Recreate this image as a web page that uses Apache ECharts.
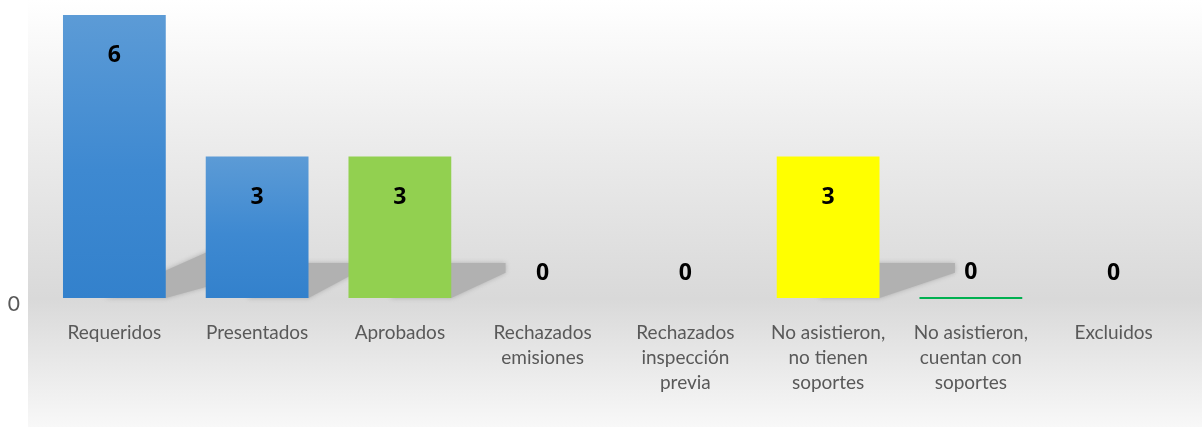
<!DOCTYPE html>
<html>
<head>
<meta charset="utf-8">
<script src="https://cdn.jsdelivr.net/npm/echarts@6/dist/echarts.min.js"></script>
<style>html,body{margin:0;padding:0;background:#fff}#c{width:1202px;height:427px}</style>
</head>
<body>
<div id="c"></div>
<script>
const categories = ['Requeridos', 'Presentados', 'Aprobados', 'Rechazados\nemisiones', 'Rechazados\ninspección\nprevia', 'No asistieron,\nno tienen\nsoportes', 'No asistieron,\ncuentan con\nsoportes', 'Excluidos'];
const values = [6, 3, 3, 0, 0, 3, 0, 0];
const yTicks = [0];

const blue = new echarts.graphic.LinearGradient(0, 0, 0, 1, [{offset: 0, color: '#5c9bd6'}, {offset: 0.55, color: '#3e89d1'}, {offset: 1, color: '#3381cc'}]);
const barColors = [blue, blue, '#92d050', 'transparent', 'transparent', '#ffff00', 'transparent', 'transparent'];
const barBorders = [null, null, null, null, null, null, '#00b050', null];

const chart = echarts.init(document.getElementById('c'), null, {renderer: 'canvas'});
const font = 'Lato, "Open Sans", sans-serif';

chart.setOption({
  animation: false,
  graphic: [{
    type: 'rect', z: -10, silent: true,
    shape: {x: 28, y: 0, width: 1174, height: 427},
    style: {fill: new echarts.graphic.LinearGradient(0, 0, 0, 1, [
      {offset: 0, color: '#ffffff'}, {offset: 0.33, color: '#ececec'},
      {offset: 0.7, color: '#d9d9d9'}, {offset: 1, color: '#f8f8f8'}])}
  }],
  grid: {left: 43, right: 17, top: 15, bottom: 129},
  xAxis: {
    type: 'category', data: categories,
    axisLine: {show: false}, axisTick: {show: false},
    axisLabel: {interval: 0, color: '#595959', fontFamily: font, fontSize: 19, lineHeight: 25, margin: 22}
  },
  yAxis: {
    type: 'value', min: 0, max: 6, interval: 6,
    splitLine: {show: false}, axisLine: {show: false}, axisTick: {show: false},
    axisLabel: {color: '#595959', fontFamily: font, fontSize: 21, margin: 23,
      formatter: v => yTicks.includes(v) ? '{a|' + v + '}' : '',
      rich: {a: {color: '#595959', fontFamily: font, fontSize: 21, padding: [12, 0, 0, 0]}}}
  },
  series: [{
    type: 'custom', z: 1, silent: true,
    data: values.map((v, i) => [i, v]).filter(d => d[1] > 0),
    renderItem: function (params, api) {
      const idx = api.value(0), v = api.value(1);
      const base = api.coord([idx, 0]);
      const top = api.coord([idx, v]);
      const bw = api.size([1, 0])[0] * 0.72;
      const h = base[1] - top[1];
      const x0 = base[0] - bw / 2, x1 = base[0] + bw / 2, y0 = base[1];
      const b2 = 2.95 * Math.sqrt(h), b1 = 0.72 * b2;
      const a = (40 + 7 * idx) * Math.pow(h / 141, 1.7);
      return {
        type: 'polygon',
        shape: {points: [[x0 + 0.4 * bw, y0], [x1, y0], [x1 + a, y0 - b1], [x1 + a, y0 - b2], [x0 + 0.54 * h, y0 - b2]]},
        style: {fill: '#b1b1b1', shadowBlur: 5, shadowColor: 'rgba(170,170,170,0.9)'}
      };
    }
  }, {
    type: 'bar', z: 2, barWidth: '72%',
    data: values.map((v, i) => ({
      value: v,
      itemStyle: barBorders[i] ? {color: 'rgba(0,0,0,0)', borderColor: barBorders[i], borderWidth: 2} : {color: barColors[i]},
      label: {position: v > 0 ? 'insideTop' : 'top', distance: v > 0 ? 29 : 13}
    })),
    label: {show: true, color: '#000', fontFamily: '"Open Sans", sans-serif', fontWeight: 'bold', fontSize: 23}
  }]
});
</script>
</body>
</html>
